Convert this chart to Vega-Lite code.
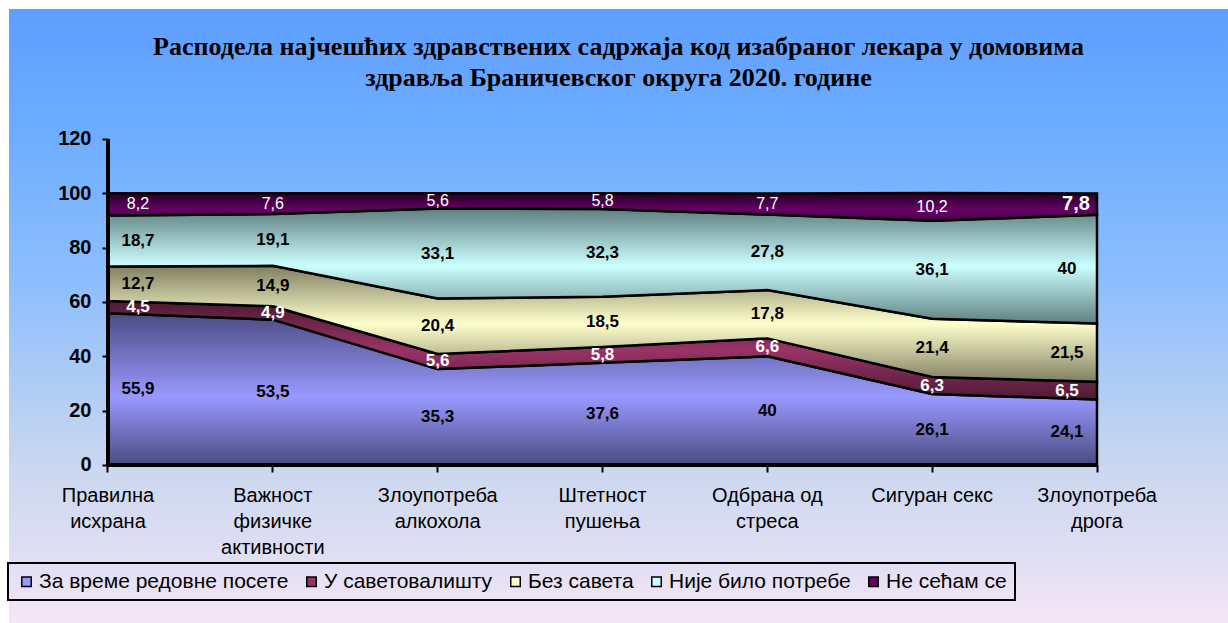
{
  "$schema": "https://vega.github.io/schema/vega-lite/v6.json",
  "width": 1219,
  "height": 614,
  "autosize": {"type": "none"},
  "padding": {"left": 9, "top": 9, "right": 0, "bottom": 0},
  "background": "white",
  "view": {
    "stroke": null,
    "fill": {"gradient": "linear", "x1": 0, "y1": 0, "x2": 0, "y2": 1,
      "stops": [
        {"offset": 0, "color": "#5e9eff"},
        {"offset": 0.2, "color": "#6dadff"},
        {"offset": 0.45, "color": "#8ebffd"},
        {"offset": 0.74, "color": "#c9d7ef"},
        {"offset": 0.9, "color": "#e1dff3"},
        {"offset": 1, "color": "#f6e5f6"}
      ]}
  },
  "title": {
    "text": ["Расподела најчешћих здравствених садржаја код изабраног лекара у домовима", "здравља Браничевског округа  2020. године"],
    "font": "Liberation Serif",
    "fontSize": 26,
    "fontWeight": "bold",
    "color": "black",
    "anchor": "middle",
    "frame": "group",
    "offset": -103,
    "baseline": "alphabetic",
    "lineHeight": 31
  },
  "config": {
    "locale": {"number": {"decimal": ",", "thousands": ".", "grouping": [3], "currency": ["", ""]}},
    "axis": {"grid": false},
    "legend": {"strokeWidth": 2}
  },
  "data": {
    "values": [
      {"category": "Правилна исхрана", "series": "За време редовне посете", "value": 55.9},
      {"category": "Правилна исхрана", "series": "У саветовалишту", "value": 4.5},
      {"category": "Правилна исхрана", "series": "Без савета", "value": 12.7},
      {"category": "Правилна исхрана", "series": "Није било потребе", "value": 18.7},
      {"category": "Правилна исхрана", "series": "Не сећам се", "value": 8.2},
      {"category": "Важност физичке активности", "series": "За време редовне посете", "value": 53.5},
      {"category": "Важност физичке активности", "series": "У саветовалишту", "value": 4.9},
      {"category": "Важност физичке активности", "series": "Без савета", "value": 14.9},
      {"category": "Важност физичке активности", "series": "Није било потребе", "value": 19.1},
      {"category": "Важност физичке активности", "series": "Не сећам се", "value": 7.6},
      {"category": "Злоупотреба алкохола", "series": "За време редовне посете", "value": 35.3},
      {"category": "Злоупотреба алкохола", "series": "У саветовалишту", "value": 5.6},
      {"category": "Злоупотреба алкохола", "series": "Без савета", "value": 20.4},
      {"category": "Злоупотреба алкохола", "series": "Није било потребе", "value": 33.1},
      {"category": "Злоупотреба алкохола", "series": "Не сећам се", "value": 5.6},
      {"category": "Штетност пушења", "series": "За време редовне посете", "value": 37.6},
      {"category": "Штетност пушења", "series": "У саветовалишту", "value": 5.8},
      {"category": "Штетност пушења", "series": "Без савета", "value": 18.5},
      {"category": "Штетност пушења", "series": "Није било потребе", "value": 32.3},
      {"category": "Штетност пушења", "series": "Не сећам се", "value": 5.8},
      {"category": "Одбрана од стреса", "series": "За време редовне посете", "value": 40},
      {"category": "Одбрана од стреса", "series": "У саветовалишту", "value": 6.6},
      {"category": "Одбрана од стреса", "series": "Без савета", "value": 17.8},
      {"category": "Одбрана од стреса", "series": "Није било потребе", "value": 27.8},
      {"category": "Одбрана од стреса", "series": "Не сећам се", "value": 7.7},
      {"category": "Сигуран секс", "series": "За време редовне посете", "value": 26.1},
      {"category": "Сигуран секс", "series": "У саветовалишту", "value": 6.3},
      {"category": "Сигуран секс", "series": "Без савета", "value": 21.4},
      {"category": "Сигуран секс", "series": "Није било потребе", "value": 36.1},
      {"category": "Сигуран секс", "series": "Не сећам се", "value": 10.2},
      {"category": "Злоупотреба дрога", "series": "За време редовне посете", "value": 24.1},
      {"category": "Злоупотреба дрога", "series": "У саветовалишту", "value": 6.5},
      {"category": "Злоупотреба дрога", "series": "Без савета", "value": 21.5},
      {"category": "Злоупотреба дрога", "series": "Није било потребе", "value": 40},
      {"category": "Злоупотреба дрога", "series": "Не сећам се", "value": 7.8}
    ]
  },
  "transform": [
    {"calculate": "indexof(['За време редовне посете','У саветовалишту','Без савета','Није било потребе','Не сећам се'], datum.series)", "as": "k"},
    {"stack": "value", "groupby": ["category"], "sort": [{"field": "k", "order": "ascending"}], "as": ["y0", "y1"]},
    {"calculate": "(datum.y0 + datum.y1) / 2", "as": "mid"}
  ],
  "encoding": {
    "x": {
      "field": "category",
      "type": "nominal",
      "sort": ["Правилна исхрана", "Важност физичке активности", "Злоупотреба алкохола", "Штетност пушења", "Одбрана од стреса", "Сигуран секс", "Злоупотреба дрога"],
      "scale": {
        "domain": ["Правилна исхрана", "Важност физичке активности", "Злоупотреба алкохола", "Штетност пушења", "Одбрана од стреса", "Сигуран секс", "Злоупотреба дрога"],
        "range": [16.58, 1170.42]
      },
      "axis": {
        "title": null,
        "domain": false,
        "offset": -158,
        "zindex": 1,
        "tickSize": 7,
        "tickWidth": 2,
        "tickColor": "black",
        "labelFont": "Liberation Sans",
        "labelFontSize": 20,
        "labelColor": "black",
        "labelPadding": 13,
        "labelLineHeight": 26,
        "labelAngle": 0,
        "labelLimit": 400,
        "labelOverlap": false,
        "labelFlush": false,
        "labelExpr": "datum.value === 'Важност физичке активности' ? ['Важност', 'физичке', 'активности'] : datum.value === 'Одбрана од стреса' ? ['Одбрана од', 'стреса'] : datum.value === 'Сигуран секс' ? 'Сигуран секс' : split(datum.value, ' ')"
      }
    }
  },
  "layer": [
    {
      "transform": [{"filter": "datum.series === 'За време редовне посете'"}],
      "mark": {"type": "area", "stroke": "black", "strokeWidth": 2.5, "strokeJoin": "miter",
        "fill": {"gradient": "linear", "x1": 0, "y1": 0, "x2": 0, "y2": 1,
          "stops": [{"offset": 0, "color": "#4b4b82"}, {"offset": 0.55, "color": "#9999ff"}, {"offset": 1, "color": "#4b4b82"}]}},
      "encoding": {
        "y": {"field": "y1", "type": "quantitative", "scale": {"domain": [-58.16, 167.85], "nice": false, "zero": false},
          "axis": {"title": null, "domain": false, "offset": -99, "zindex": 1, "values": [0, 20, 40, 60, 80, 100, 120], "tickSize": 6, "tickWidth": 2, "tickColor": "black", "labelFont": "Liberation Sans", "labelFontSize": 20, "labelFontWeight": "bold", "labelColor": "black", "labelPadding": 11, "labelOverlap": false, "grid": false}},
        "y2": {"field": "y0"}
      }
    },
    {
      "transform": [{"filter": "datum.series === 'У саветовалишту'"}],
      "mark": {"type": "area", "stroke": "black", "strokeWidth": 2.5, "strokeJoin": "miter",
        "fill": {"gradient": "linear", "x1": 0, "y1": 0, "x2": 0, "y2": 1,
          "stops": [{"offset": 0, "color": "#4d1a33"}, {"offset": 0.5, "color": "#993366"}, {"offset": 1, "color": "#4d1a33"}]}},
      "encoding": {
        "y": {"field": "y1", "type": "quantitative", "scale": {"domain": [-58.16, 167.85], "nice": false, "zero": false}},
        "y2": {"field": "y0"}
      }
    },
    {
      "transform": [{"filter": "datum.series === 'Без савета'"}],
      "mark": {"type": "area", "stroke": "black", "strokeWidth": 2.5, "strokeJoin": "miter",
        "fill": {"gradient": "linear", "x1": 0, "y1": 0, "x2": 0, "y2": 1,
          "stops": [{"offset": 0, "color": "#7f7f62"}, {"offset": 0.5, "color": "#ffffcc"}, {"offset": 1, "color": "#7f7f62"}]}},
      "encoding": {
        "y": {"field": "y1", "type": "quantitative", "scale": {"domain": [-58.16, 167.85], "nice": false, "zero": false}},
        "y2": {"field": "y0"}
      }
    },
    {
      "transform": [{"filter": "datum.series === 'Није било потребе'"}],
      "mark": {"type": "area", "stroke": "black", "strokeWidth": 2.5, "strokeJoin": "miter",
        "fill": {"gradient": "linear", "x1": 0, "y1": 0, "x2": 0, "y2": 1,
          "stops": [{"offset": 0, "color": "#5f7f80"}, {"offset": 0.5, "color": "#ccffff"}, {"offset": 1, "color": "#5f7f80"}]}},
      "encoding": {
        "y": {"field": "y1", "type": "quantitative", "scale": {"domain": [-58.16, 167.85], "nice": false, "zero": false}},
        "y2": {"field": "y0"}
      }
    },
    {
      "transform": [{"filter": "datum.series === 'Не сећам се'"}],
      "mark": {"type": "area", "stroke": "black", "strokeWidth": 2.5, "strokeJoin": "miter",
        "fill": {"gradient": "linear", "x1": 0, "y1": 0, "x2": 0, "y2": 1,
          "stops": [{"offset": 0, "color": "#220022"}, {"offset": 0.6, "color": "#660066"}, {"offset": 1, "color": "#4a004a"}]}},
      "encoding": {
        "y": {"field": "y1", "type": "quantitative", "scale": {"domain": [-58.16, 167.85], "nice": false, "zero": false}},
        "y2": {"field": "y0"}
      }
    },
    {
      "mark": {"type": "rule", "color": "black", "strokeWidth": 2.5},
      "encoding": {
        "x": {"datum": "Правилна исхрана"},
        "y": {"datum": 0, "scale": {"domain": [-58.16, 167.85], "nice": false, "zero": false}},
        "y2": {"datum": 120}
      }
    },
    {
      "mark": {"type": "rule", "color": "black", "strokeWidth": 2.5},
      "encoding": {
        "x": {"datum": "Правилна исхрана"},
        "x2": {"datum": "Злоупотреба дрога"},
        "y": {"datum": 0, "scale": {"domain": [-58.16, 167.85], "nice": false, "zero": false}}
      }
    },
    {
      "mark": {
        "type": "text",
        "font": "Liberation Sans",
        "align": "center",
        "baseline": "middle",
        "fontWeight": {"expr": "datum.series === 'Не сећам се' && datum.category !== 'Злоупотреба дрога' ? 'normal' : 'bold'"},
        "dx": {"expr": "datum.category === 'Правилна исхрана' ? 30 : datum.category === 'Злоупотреба дрога' ? (datum.series === 'Не сећам се' ? -21 : -30) : 0"}
      },
      "encoding": {
        "y": {"field": "mid", "type": "quantitative", "scale": {"domain": [-58.16, 167.85], "nice": false, "zero": false}},
        "text": {"field": "value", "type": "quantitative", "format": ".1~f"},
        "color": {"condition": {"test": "datum.series === 'У саветовалишту' || datum.series === 'Не сећам се'", "value": "white"}, "value": "black"},
        "size": {"condition": [{"test": "datum.series === 'Не сећам се' && datum.category === 'Злоупотреба дрога'", "value": 20}, {"test": "datum.series === 'Не сећам се'", "value": 16}], "value": 17}
      }
    },
    {
      "mark": {"type": "point", "shape": "square", "filled": true, "opacity": 0},
      "encoding": {
        "y": {"field": "mid", "type": "quantitative", "scale": {"domain": [-58.16, 167.85], "nice": false, "zero": false}},
        "color": {
          "field": "series",
          "type": "nominal",
          "scale": {
            "domain": ["За време редовне посете", "У саветовалишту", "Без савета", "Није било потребе", "Не сећам се"],
            "range": ["#9999ff", "#993366", "#ffffcc", "#ccffff", "#660066"]
          },
          "legend": {
            "orient": "none",
            "legendX": -1,
            "legendY": 554,
            "direction": "horizontal",
            "title": null,
            "symbolType": "square",
            "symbolSize": 90,
            "symbolStrokeColor": "black",
            "symbolStrokeWidth": 1.5,
            "symbolOpacity": 1,
            "labelFont": "Liberation Sans",
            "labelFontSize": 21,
            "labelColor": "black",
            "labelOffset": 2,
            "labelLimit": 400,
            "columnPadding": 12,
            "padding": 8,
            "strokeColor": "black"
          }
        }
      }
    }
  ]
}
